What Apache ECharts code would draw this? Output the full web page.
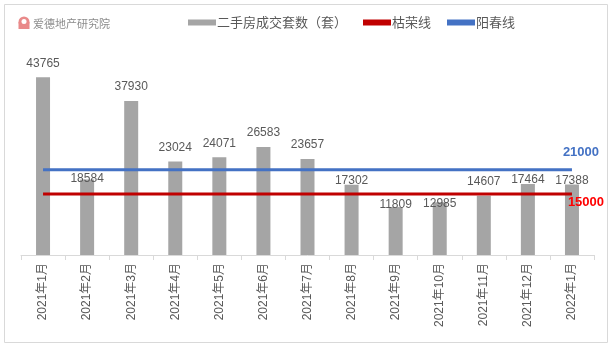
<!DOCTYPE html>
<html><head><meta charset="utf-8">
<script src="https://cdn.jsdelivr.net/npm/echarts@6/dist/echarts.min.js"></script>
<style>html,body{margin:0;padding:0;background:#fff}#c{width:614px;height:348px}</style>
</head><body><div id="c"></div>
<script>
const categories = ['2021年1月','2021年2月','2021年3月','2021年4月','2021年5月','2021年6月','2021年7月','2021年8月','2021年9月','2021年10月','2021年11月','2021年12月','2022年1月'];
const deals = [43765,18584,37930,23024,24071,26583,23657,17302,11809,12985,14607,17464,17388];
const kuRong = [15000,15000,15000,15000,15000,15000,15000,15000,15000,15000,15000,15000,15000];
const yangChun = [21000,21000,21000,21000,21000,21000,21000,21000,21000,21000,21000,21000,21000];
const seriesNames = ['二手房成交套数（套）','枯荣线','阳春线'];

const FONT = '"Liberation Sans","Noto Sans CJK SC",sans-serif';
const chart = echarts.init(document.getElementById('c'), null, {renderer:'canvas'});

function endLabel(arr, cfg){
  return arr.map((v,i)=> i===arr.length-1 ? {value:v, label:Object.assign({show:true, fontWeight:'bold', fontSize:13, fontFamily:FONT}, cfg)} : v);
}
// label placement tweaks matching the original hand-moved labels
const labelDist = {1:-5, 7:-2, 8:-4, 9:-7, 11:-2, 12:-2};
const barData = deals.map((v,i)=> (i in labelDist) ? {value:v, label:{distance:labelDist[i]}} : v);

chart.setOption({
  animation:false,
  textStyle:{fontFamily:FONT},
  graphic:[
    {type:'rect', shape:{x:4.5,y:4.5,width:603,height:338}, style:{fill:'none', stroke:'#d9d9d9', lineWidth:1}},
    {type:'circle', shape:{cx:24,cy:22,r:5.5}, style:{fill:'#e98a8a'}},
    {type:'rect', shape:{x:18.5,y:22,width:11,height:7}, style:{fill:'#e98a8a'}},
    {type:'circle', shape:{cx:24,cy:21.5,r:2.5}, style:{fill:'#fff'}},
    {type:'text', left:33, top:18, style:{text:'爱德地产研究院', fill:'#8c8c8c', font:'11px "Noto Sans CJK SC",sans-serif'}}
  ],
  legend:{
    top:11, left:183, itemGap:16, itemWidth:28, itemHeight:6,
    textStyle:{color:'#595959', fontSize:13, fontFamily:'"Noto Sans CJK SC",sans-serif', padding:[0,0,0,-4]},
    data:[
      {name:seriesNames[0], icon:'rect'},
      {name:seriesNames[1], icon:'rect', itemStyle:{color:'#c00000'}},
      {name:seriesNames[2], icon:'rect', itemStyle:{color:'#4472c4'}}
    ]
  },
  grid:{left:21, right:20, top:52, bottom:93},
  xAxis:{
    type:'category', data:categories,
    axisLine:{lineStyle:{color:'#d9d9d9'}},
    axisTick:{show:true, length:5, lineStyle:{color:'#d9d9d9'}},
    axisLabel:{rotate:90, color:'#595959', fontSize:12, margin:8, interval:0, fontFamily:FONT}
  },
  yAxis:{type:'value', min:0, max:50000, show:false, splitLine:{show:false}},
  series:[
    {name:seriesNames[0], type:'bar', data:barData, barWidth:14,
     itemStyle:{color:'#a5a5a5'},
     label:{show:true, position:'top', distance:8, color:'#595959', fontSize:12, fontFamily:FONT}},
    {name:seriesNames[1], type:'line', data:endLabel(kuRong,{position:'bottom', offset:[14,-3], color:'#ff0000'}),
     symbol:'circle', symbolSize:0, showSymbol:true, lineStyle:{color:'#c00000', width:3}, itemStyle:{color:'#c00000'}, z:3},
    {name:seriesNames[2], type:'line', data:endLabel(yangChun,{position:'top', offset:[9,-6], color:'#4472c4'}),
     symbol:'circle', symbolSize:0, showSymbol:true, lineStyle:{color:'#4472c4', width:3}, itemStyle:{color:'#4472c4'}, z:3}
  ]
});
</script></body></html>
